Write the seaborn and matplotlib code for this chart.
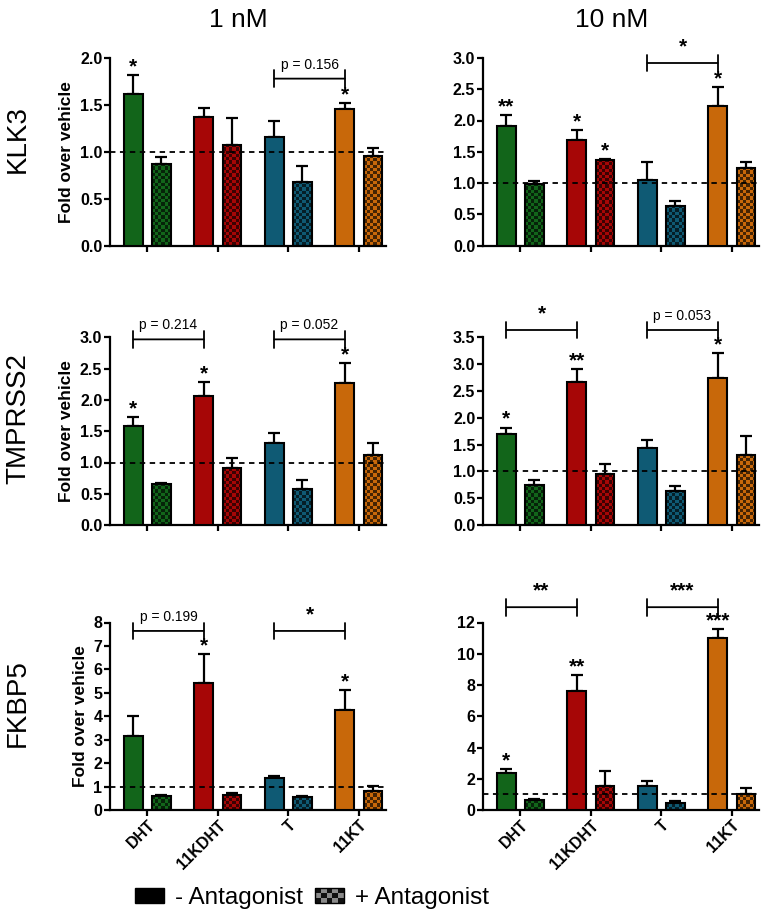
import numpy as np
import pandas as pd
import seaborn as sns
import matplotlib.pyplot as plt
from matplotlib.patches import Rectangle, Patch
from matplotlib.legend_handler import HandlerBase
from matplotlib.colors import ListedColormap, to_rgb

steroids = ['DHT', '11KDHT', 'T', '11KT']
steroid_colors = ['#12651a', '#a60606', '#0f5a74', '#c8680a']

# KLK3
klk3_1_minus = [1.62, 1.37, 1.16, 1.46]
klk3_1_minus_err = [0.20, 0.10, 0.17, 0.06]
klk3_1_plus = [0.87, 1.07, 0.675, 0.95]
klk3_1_plus_err = [0.07, 0.29, 0.17, 0.09]
klk3_1_stars = ['*', '', '', '*']
klk3_1_plus_stars = ['', '', '', '']

klk3_10_minus = [1.92, 1.69, 1.05, 2.24]
klk3_10_minus_err = [0.17, 0.16, 0.28, 0.30]
klk3_10_plus = [0.99, 1.37, 0.64, 1.24]
klk3_10_plus_err = [0.05, 0.02, 0.08, 0.09]
klk3_10_stars = ['**', '*', '', '*']
klk3_10_plus_stars = ['', '*', '', '']

# TMPRSS2
tmp_1_minus = [1.59, 2.07, 1.32, 2.27]
tmp_1_minus_err = [0.13, 0.22, 0.15, 0.32]
tmp_1_plus = [0.66, 0.91, 0.58, 1.12]
tmp_1_plus_err = [0.01, 0.17, 0.135, 0.19]
tmp_1_stars = ['*', '*', '', '*']

tmp_10_minus = [1.69, 2.67, 1.43, 2.75]
tmp_10_minus_err = [0.13, 0.24, 0.15, 0.46]
tmp_10_plus = [0.755, 0.95, 0.64, 1.30]
tmp_10_plus_err = [0.085, 0.19, 0.09, 0.36]
tmp_10_stars = ['*', '**', '', '*']

# FKBP5
fkbp_1_minus = [3.16, 5.41, 1.35, 4.26]
fkbp_1_minus_err = [0.83, 1.24, 0.09, 0.84]
fkbp_1_plus = [0.61, 0.64, 0.54, 0.83]
fkbp_1_plus_err = [0.02, 0.07, 0.06, 0.18]
fkbp_1_stars = ['', '*', '', '*']

fkbp_10_minus = [2.37, 7.61, 1.54, 11.02]
fkbp_10_minus_err = [0.23, 1.03, 0.31, 0.54]
fkbp_10_plus = [0.64, 1.54, 0.43, 1.02]
fkbp_10_plus_err = [0.04, 0.95, 0.12, 0.37]
fkbp_10_stars = ['*', '**', '', '***']

no_stars = ['', '', '', '']

# brackets: (group a, group b, height, label)
klk3_1_brackets = [(2, 3, 1.78, 'p = 0.156')]
klk3_10_brackets = [(2, 3, 2.92, '*')]
tmp_1_brackets = [(0, 1, 2.97, 'p = 0.214'), (2, 3, 2.97, 'p = 0.052')]
tmp_10_brackets = [(0, 1, 3.64, '*'), (2, 3, 3.64, 'p = 0.053')]
fkbp_1_brackets = [(0, 1, 7.64, 'p = 0.199'), (2, 3, 7.64, '*')]
fkbp_10_brackets = [(0, 1, 12.98, '**'), (2, 3, 12.98, '***')]

genes = ['KLK3', 'TMPRSS2', 'FKBP5']
concs = ['1 nM', '10 nM']

panels = [
    [(klk3_1_minus, klk3_1_minus_err, klk3_1_plus, klk3_1_plus_err, klk3_1_stars, klk3_1_plus_stars, klk3_1_brackets, 2.0, 0.5),
     (klk3_10_minus, klk3_10_minus_err, klk3_10_plus, klk3_10_plus_err, klk3_10_stars, klk3_10_plus_stars, klk3_10_brackets, 3.0, 0.5)],
    [(tmp_1_minus, tmp_1_minus_err, tmp_1_plus, tmp_1_plus_err, tmp_1_stars, no_stars, tmp_1_brackets, 3.0, 0.5),
     (tmp_10_minus, tmp_10_minus_err, tmp_10_plus, tmp_10_plus_err, tmp_10_stars, no_stars, tmp_10_brackets, 3.5, 0.5)],
    [(fkbp_1_minus, fkbp_1_minus_err, fkbp_1_plus, fkbp_1_plus_err, fkbp_1_stars, no_stars, fkbp_1_brackets, 8, 1),
     (fkbp_10_minus, fkbp_10_minus_err, fkbp_10_plus, fkbp_10_plus_err, fkbp_10_stars, no_stars, fkbp_10_brackets, 12, 2)],
]

sns.set_theme(style='ticks', rc={'text.color': 'black', 'xtick.color': 'black',
                                 'ytick.color': 'black', 'axes.edgecolor': 'black',
                                 'axes.labelcolor': 'black'})
plt.rcParams['font.family'] = ['Liberation Sans', 'DejaVu Sans']
narrow = ['Liberation Sans Narrow', 'Liberation Sans', 'DejaVu Sans']

fig = plt.figure(figsize=(7.7, 9.17), dpi=100)

col_x = [110 / 770, 483 / 770]
row_y = [1 - 245.5 / 917, 1 - 525 / 917, 1 - 810 / 917]
ax_w = 275.7 / 770
ax_h = 187.5 / 917
xlim = (-0.53, 3.38)

for r in range(3):
    for c in range(2):
        minus, minus_err, plus, plus_err, stars, plus_stars, brackets, ymax, ystep = panels[r][c]
        ax = fig.add_axes([col_x[c], row_y[r], ax_w, ax_h])
        df = pd.DataFrame({'steroid': steroids * 2,
                           'treatment': ['-'] * 4 + ['+'] * 4,
                           'value': minus + plus})
        sns.barplot(data=df, x='steroid', y='value', hue='treatment', order=steroids,
                    hue_order=['-', '+'], palette=['#888888', '#888888'], errorbar=None,
                    width=0.8, gap=0.33, edgecolor='black', linewidth=1.5,
                    legend=False, ax=ax, zorder=3)
        ax.set_xlim(*xlim)
        ax.set_ylim(0, ymax)
        ticks = np.arange(0, ymax + ystep / 2, ystep)
        ax.set_yticks(ticks)
        if ystep < 1:
            ax.set_yticklabels([f'{v:.1f}' for v in ticks])
        else:
            ax.set_yticklabels([f'{int(v)}' for v in ticks])

        bbox = ax.get_window_extent()
        px_x = bbox.width / (xlim[1] - xlim[0])
        px_y = bbox.height / ymax

        bars = sorted(ax.patches, key=lambda p: p.get_x())
        errs = [minus_err, plus_err]
        vals_stars = [stars, plus_stars]
        centers = {}
        for k, p in enumerate(bars):
            g, t = k // 2, k % 2
            col = steroid_colors[g]
            x0, w, h = p.get_x(), p.get_width(), p.get_height()
            xc = x0 + w / 2
            centers[(g, t)] = xc
            if t == 0:
                p.set_facecolor(col)
            else:
                # checkerboard fill for the antagonist bars
                p.set_facecolor('none')
                ncol = max(1, int(round(w * px_x / 3.2)))
                nrow = max(1, int(round(h * px_y / 3.2)))
                arr = np.add.outer(np.arange(nrow), np.arange(ncol)) % 2
                dark = tuple(np.array(to_rgb(col)) * 0.35)
                im = ax.imshow(arr, cmap=ListedColormap([col, dark]), extent=(x0, x0 + w, 0, h),
                               origin='lower', aspect='auto', interpolation='nearest', zorder=2.5)
                im.set_clip_path(p)
            e = errs[t][g]
            ax.errorbar([xc], [h], yerr=[[0], [e]], fmt='none', ecolor='black',
                        elinewidth=1.6, capsize=4.5, capthick=1.6, zorder=2)
            s = vals_stars[t][g]
            if s:
                ax.annotate(s, (xc, h + e), xytext=(0, -1), textcoords='offset points',
                            ha='center', va='bottom', fontsize=15, fontweight='bold')
        ax.set_xlim(*xlim)
        ax.set_ylim(0, ymax)

        ax.axhline(1, color='black', lw=1.3, ls=(0, (3, 2.5)), zorder=5)

        for a, b, y, lab in brackets:
            xa, xb = centers[(a, 0)], centers[(b, 0)]
            ax.annotate('', xy=(xa, y), xytext=(xb, y), annotation_clip=False,
                        arrowprops=dict(arrowstyle='|-|,widthA=0.5,widthB=0.5', lw=1.3,
                                        color='black', shrinkA=0, shrinkB=0))
            if lab.startswith('p'):
                ax.annotate(lab, ((xa + xb) / 2, y), xytext=(0, 5), textcoords='offset points',
                            ha='center', va='bottom', fontsize=10, annotation_clip=False)
            else:
                ax.annotate(lab, ((xa + xb) / 2, y), xytext=(0, 5), textcoords='offset points',
                            ha='center', va='bottom', fontsize=15, fontweight='bold',
                            annotation_clip=False)

        sns.despine(ax=ax)
        for side in ['left', 'bottom']:
            ax.spines[side].set_linewidth(1.6)
        ax.tick_params(axis='both', width=1.6, length=4, labelsize=11.5, pad=1.5)
        ax.set_xticks(range(4))
        ax.set_xlabel('')
        if r == 2:
            ax.set_xticklabels(steroids, rotation=45, ha='right', rotation_mode='anchor',
                               fontweight='bold', fontsize=11.5)
        else:
            ax.set_xticklabels([])
        for lbl in ax.get_yticklabels():
            lbl.set_fontweight('bold')
        if c == 0:
            ax.set_ylabel('Fold over vehicle', fontsize=12.5, fontweight='bold', labelpad=4)
        else:
            ax.set_ylabel('')

# column and row titles
for c, t in enumerate(concs):
    fig.text(col_x[c] + ax_w / 2 - 0.012, 1 - 20 / 917, t, ha='center', va='center',
             fontsize=19, family=narrow)
for r, g in enumerate(genes):
    fig.text(18 / 770, row_y[r] + ax_h / 2 + 0.014, g, ha='center', va='center',
             rotation=90, fontsize=20, family=narrow)


class CheckerHandler(HandlerBase):
    def create_artists(self, legend, orig_handle, xdescent, ydescent, width, height,
                       fontsize, trans):
        arts = []
        nx, ny = 5, 3
        for i in range(nx):
            for j in range(ny):
                fc = '#111111' if (i + j) % 2 == 0 else '#8a8a8a'
                arts.append(Rectangle((-xdescent + i * width / nx, -ydescent + j * height / ny),
                                      width / nx, height / ny, facecolor=fc, edgecolor='none',
                                      transform=trans))
        arts.append(Rectangle((-xdescent, -ydescent), width, height, facecolor='none',
                              edgecolor='black', lw=1, transform=trans))
        return arts


h_minus = Patch(facecolor='black', edgecolor='black')
h_plus = Patch(facecolor='gray', edgecolor='black')
fig.legend([h_minus, h_plus], ['- Antagonist', '+ Antagonist'],
           handler_map={h_plus: CheckerHandler()},
           loc='center', bbox_to_anchor=(0.405, 1 - 898 / 917), ncol=2, frameon=False,
           fontsize=17.5, handlelength=1.2, handleheight=0.6, handletextpad=0.45,
           columnspacing=0.5)

fig.savefig('out.png', dpi=100)
